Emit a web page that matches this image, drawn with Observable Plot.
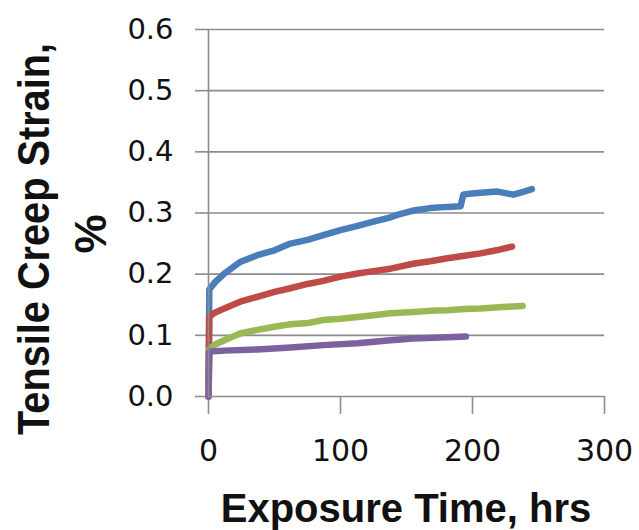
<!DOCTYPE html>
<html>
<head>
<meta charset="utf-8">
<script src="https://cdn.jsdelivr.net/npm/d3@7"></script>
<script src="https://cdn.jsdelivr.net/npm/@observablehq/plot@0.6"></script>
<style>
  html, body { margin: 0; padding: 0; background: #fff; }
  #chart { width: 639px; height: 530px; }
</style>
</head>
<body>
<div id="chart"></div>
<script>
// Tick values
const xTicks = [0, 100, 200, 300];
const yTicks = [0.0, 0.1, 0.2, 0.3, 0.4, 0.5, 0.6];

// Series 1 (blue)
const s1Time = [0, 0.6, 5, 12, 24, 37, 50, 62, 75, 87, 100, 113, 125, 138, 143, 155, 168, 181, 191, 193, 196, 206, 219, 231, 239, 245];
const s1Strain = [0, 0.175, 0.187, 0.201, 0.220, 0.231, 0.239, 0.250, 0.256, 0.264, 0.272, 0.279, 0.286, 0.293, 0.297, 0.304, 0.308, 0.310, 0.311, 0.330, 0.331, 0.333, 0.335, 0.330, 0.335, 0.339];
// Series 2 (red)
const s2Time = [0, 0.6, 4, 12, 24, 37, 50, 62, 75, 87, 100, 113, 125, 138, 155, 168, 181, 194, 206, 218, 230];
const s2Strain = [0, 0.130, 0.136, 0.144, 0.155, 0.163, 0.171, 0.177, 0.184, 0.189, 0.196, 0.201, 0.205, 0.209, 0.217, 0.221, 0.226, 0.230, 0.234, 0.239, 0.245];
// Series 3 (green)
const s3Time = [0, 0.6, 5, 12, 24, 37, 50, 62, 75, 87, 100, 113, 125, 138, 155, 168, 181, 194, 206, 220, 238];
const s3Strain = [0, 0.077, 0.085, 0.092, 0.103, 0.109, 0.114, 0.118, 0.120, 0.125, 0.127, 0.130, 0.133, 0.136, 0.138, 0.140, 0.141, 0.143, 0.144, 0.146, 0.148];
// Series 4 (purple)
const s4Time = [0, 0.6, 4, 12, 37, 62, 87, 113, 138, 155, 181, 195];
const s4Strain = [0, 0.073, 0.074, 0.075, 0.077, 0.080, 0.084, 0.087, 0.092, 0.095, 0.097, 0.098];

const seriesColors = ["#4a7ebb", "#be4b48", "#98b954", "#7d60a0"];
const seriesList = [[s1Time, s1Strain], [s2Time, s2Strain], [s3Time, s3Strain], [s4Time, s4Strain]];

const gridColor = "#8c8c8c";
const textColor = "#111";

const lineMarks = seriesList.map(([t, v], i) =>
  Plot.line(t.map((d, j) => ({t: d, v: v[j]})), {
    x: "t", y: "v", stroke: seriesColors[i], strokeWidth: 6.5,
    strokeLinecap: "round", strokeLinejoin: "round"
  })
);

const plot = Plot.plot({
  width: 639,
  height: 530,
  marginLeft: 208,
  marginRight: 35,
  marginTop: 29,
  marginBottom: 134,
  style: {fontFamily: "DejaVu Sans", background: "#fff", overflow: "visible"},
  x: {domain: [0, 300], label: null},
  y: {domain: [0, 0.6], label: null},
  marks: [
    Plot.ruleY(yTicks.slice(1), {stroke: gridColor, strokeWidth: 1.6}),
    Plot.axisY(yTicks, {
      tickSize: 13, tickPadding: 22, tickFormat: d => d.toFixed(1),
      stroke: gridColor, strokeWidth: 1.6, fill: textColor, fontSize: 29, label: null
    }),
    Plot.axisX(xTicks, {
      tickSize: 18, tickPadding: 25, tickFormat: d => String(d),
      stroke: gridColor, strokeWidth: 1.6, fill: textColor, fontSize: 30, label: null
    }),
    ...lineMarks,
    Plot.ruleX([0], {y1: 0, y2: 0.6, stroke: gridColor, strokeWidth: 1.6}),
    Plot.ruleY([0], {x1: 0, x2: 300, stroke: gridColor, strokeWidth: 1.6})
  ]
});

const svg = d3.select(plot);
// Y axis title (two lines, rotated)
svg.append("text")
  .attr("transform", "translate(49,239) rotate(-90)")
  .attr("text-anchor", "middle")
  .attr("font-family", "Liberation Sans")
  .attr("font-weight", "bold")
  .attr("font-size", 44)
  .attr("fill", textColor)
  .attr("textLength", 392)
  .attr("lengthAdjust", "spacingAndGlyphs")
  .text("Tensile Creep Strain,");
svg.append("text")
  .attr("transform", "translate(106,234) rotate(-90)")
  .attr("text-anchor", "middle")
  .attr("font-family", "Liberation Sans")
  .attr("font-weight", "bold")
  .attr("font-size", 44)
  .attr("fill", textColor)
  .text("%");
// X axis title
svg.append("text")
  .attr("x", 406)
  .attr("y", 522)
  .attr("text-anchor", "middle")
  .attr("font-family", "Liberation Sans")
  .attr("font-weight", "bold")
  .attr("font-size", 40)
  .attr("fill", textColor)
  .text("Exposure Time, hrs");

document.getElementById("chart").appendChild(plot);
</script>
</body>
</html>
